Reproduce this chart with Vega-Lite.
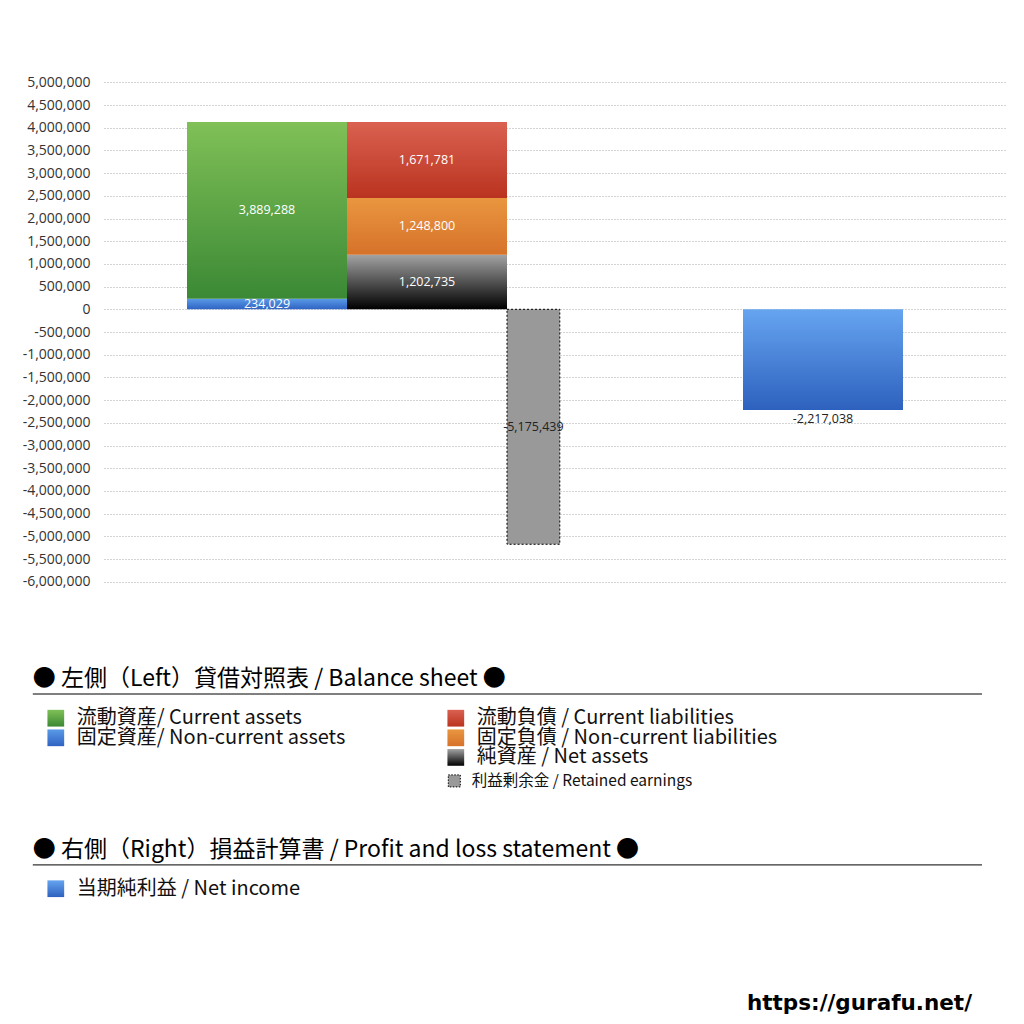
{
  "$schema": "https://vega.github.io/schema/vega-lite/v6.json",
  "width": 902,
  "height": 1024,
  "autosize": {"type": "none"},
  "padding": {"left": 104, "right": 18, "top": 0, "bottom": 0},
  "background": "white",
  "config": {
    "view": {"stroke": null},
    "font": "Noto Sans CJK JP",
    "locale": {"number": {"decimal": ".", "thousands": ",", "grouping": [3], "currency": ["", ""], "minus": "-"}}
  },
  "datasets": {
    "bars": [
      {"column": "assets", "key": "non_current_assets", "value": 234029, "order": 1, "x0": 0, "x1": 1},
      {"column": "assets", "key": "current_assets", "value": 3889288, "order": 2, "x0": 0, "x1": 1},
      {"column": "liabilities", "key": "net_assets", "value": 1202735, "order": 1, "x0": 1, "x1": 2},
      {"column": "liabilities", "key": "non_current_liabilities", "value": 1248800, "order": 2, "x0": 1, "x1": 2},
      {"column": "liabilities", "key": "current_liabilities", "value": 1671781, "order": 3, "x0": 1, "x1": 2},
      {"column": "retained", "key": "retained_earnings", "value": -5175439, "order": 1, "x0": 2, "x1": 2.33},
      {"column": "income", "key": "net_income", "value": -2217038, "order": 1, "x0": 3.475, "x1": 4.475}
    ],
    "legend": [
      {"key": "current_assets", "label": "流動資産/ Current assets", "col": 0, "row": 2},
      {"key": "non_current_assets", "label": "固定資産/ Non-current assets", "col": 0, "row": 3},
      {"key": "current_liabilities", "label": "流動負債 /  Current liabilities", "col": 1, "row": 2},
      {"key": "non_current_liabilities", "label": "固定負債 / Non-current liabilities", "col": 1, "row": 3},
      {"key": "net_assets", "label": "純資産 / Net assets", "col": 1, "row": 4},
      {"key": "retained_earnings", "label": "利益剰余金 / Retained earnings", "col": 1, "row": 5.2},
      {"key": "net_income", "label": "当期純利益 / Net income", "col": 0, "row": 10.7}
    ],
    "headers": [
      {"text": "● 左側（Left）貸借対照表 / Balance sheet ●", "col": 0, "row": 0},
      {"text": "● 右側（Right）損益計算書 / Profit and loss statement ●", "col": 0, "row": 8.72}
    ],
    "credit": [
      {"text": "https://gurafu.net/", "col": 1, "row": 16.58}
    ]
  },
  "data": {"name": "bars"},
  "transform": [
    {"stack": "value", "groupby": ["column"], "sort": [{"field": "order", "order": "ascending"}], "as": ["v0", "v1"], "offset": "zero"},
    {"calculate": "(datum.v0 + datum.v1) / 2", "as": "ym"},
    {"calculate": "(datum.x0 + datum.x1) / 2", "as": "xm"}
  ],
  "layer": [
    {
      "transform": [{"filter": "datum.key !== 'retained_earnings'"}],
      "mark": {"type": "bar"},
      "encoding": {
        "x": {"field": "x0", "type": "quantitative", "scale": {"domain": [-0.51875, 5.11875], "nice": false, "zero": false}, "axis": null},
        "x2": {"field": "x1"},
        "y": {
          "field": "v0", "type": "quantitative",
          "scale": {"domain": [-15742000, 6813000], "nice": false, "zero": false},
          "axis": {
            "orient": "left",
            "title": null,
            "values": [-6000000, -5500000, -5000000, -4500000, -4000000, -3500000, -3000000, -2500000, -2000000, -1500000, -1000000, -500000, 0, 500000, 1000000, 1500000, 2000000, 2500000, 3000000, 3500000, 4000000, 4500000, 5000000],
            "format": ",d",
            "grid": true,
            "gridDash": [1, 2],
            "gridColor": "#a8a8a8",
            "gridWidth": 1,
            "domain": false,
            "ticks": false,
            "labelPadding": 14,
            "labelFont": "Open Sans",
            "labelFontSize": 14,
            "labelColor": "#333333"
          }
        },
        "y2": {"field": "v1"},
        "color": {
          "condition": [
            {"test": "datum.key === 'current_assets'", "value": {"gradient": "linear", "x1": 0, "y1": 0, "x2": 0, "y2": 1, "stops": [{"offset": 0, "color": "#80c057"}, {"offset": 1, "color": "#3b8935"}]}},
            {"test": "datum.key === 'non_current_assets'", "value": {"gradient": "linear", "x1": 0, "y1": 0, "x2": 0, "y2": 1, "stops": [{"offset": 0, "color": "#5a9ae8"}, {"offset": 1, "color": "#2f63c2"}]}},
            {"test": "datum.key === 'current_liabilities'", "value": {"gradient": "linear", "x1": 0, "y1": 0, "x2": 0, "y2": 1, "stops": [{"offset": 0, "color": "#da6150"}, {"offset": 1, "color": "#ba3320"}]}},
            {"test": "datum.key === 'non_current_liabilities'", "value": {"gradient": "linear", "x1": 0, "y1": 0, "x2": 0, "y2": 1, "stops": [{"offset": 0, "color": "#e99640"}, {"offset": 1, "color": "#d6722a"}]}},
            {"test": "datum.key === 'net_assets'", "value": {"gradient": "linear", "x1": 0, "y1": 0, "x2": 0, "y2": 1, "stops": [{"offset": 0, "color": "#a3a3a3"}, {"offset": 1, "color": "#000000"}]}}
          ],
          "value": {"gradient": "linear", "x1": 0, "y1": 0, "x2": 0, "y2": 1, "stops": [{"offset": 0, "color": "#66a4f0"}, {"offset": 1, "color": "#2d61be"}]}
        }
      }
    },
    {
      "transform": [{"filter": "datum.key === 'retained_earnings'"}],
      "mark": {"type": "bar", "fill": "#999999", "stroke": "#000000", "strokeWidth": 1, "strokeDash": [2, 2]},
      "encoding": {
        "x": {"field": "x0", "type": "quantitative", "scale": {"domain": [-0.51875, 5.11875], "nice": false, "zero": false}, "axis": null},
        "x2": {"field": "x1"},
        "y": {"field": "v0", "type": "quantitative", "scale": {"domain": [-15742000, 6813000], "nice": false, "zero": false}, "axis": null},
        "y2": {"field": "v1"}
      }
    },
    {
      "transform": [{"filter": "datum.value > 0"}],
      "mark": {"type": "text", "align": "center", "baseline": "middle", "font": "Open Sans", "fontSize": 12.5, "color": "#ffffff"},
      "encoding": {
        "x": {"field": "xm", "type": "quantitative", "scale": {"domain": [-0.51875, 5.11875], "nice": false, "zero": false}, "axis": null},
        "y": {"field": "ym", "type": "quantitative", "scale": {"domain": [-15742000, 6813000], "nice": false, "zero": false}, "axis": null},
        "text": {"field": "value", "type": "quantitative", "format": ",d"}
      }
    },
    {
      "transform": [{"filter": "datum.key === 'retained_earnings'"}],
      "mark": {"type": "text", "align": "center", "baseline": "middle", "font": "Open Sans", "fontSize": 12.5, "color": "#222222"},
      "encoding": {
        "x": {"field": "xm", "type": "quantitative", "scale": {"domain": [-0.51875, 5.11875], "nice": false, "zero": false}, "axis": null},
        "y": {"field": "ym", "type": "quantitative", "scale": {"domain": [-15742000, 6813000], "nice": false, "zero": false}, "axis": null},
        "text": {"field": "value", "type": "quantitative", "format": ",d"}
      }
    },
    {
      "transform": [{"filter": "datum.key === 'net_income'"}],
      "mark": {"type": "text", "align": "center", "baseline": "top", "dy": 3, "font": "Open Sans", "fontSize": 12.5, "color": "#222222"},
      "encoding": {
        "x": {"field": "xm", "type": "quantitative", "scale": {"domain": [-0.51875, 5.11875], "nice": false, "zero": false}, "axis": null},
        "y": {"field": "v1", "type": "quantitative", "scale": {"domain": [-15742000, 6813000], "nice": false, "zero": false}, "axis": null},
        "text": {"field": "value", "type": "quantitative", "format": ",d"}
      }
    },
    {
      "data": {"name": "headers"},
      "mark": {"type": "text", "align": "left", "baseline": "middle", "dx": -23, "fontSize": 23, "color": "#000000"},
      "encoding": {
        "x": {"field": "col", "type": "quantitative", "scale": {"domain": [0, 1], "range": [-48.2, 351.8], "nice": false, "zero": false}, "axis": null},
        "y": {"field": "row", "type": "quantitative", "scale": {"domain": [0, 20], "range": [679, 1071], "nice": false, "zero": false}, "axis": null},
        "text": {"field": "text"}
      }
    },
    {
      "data": {"name": "headers"},
      "mark": {"type": "rule", "color": "#000000", "strokeWidth": 1, "xOffset": -23, "x2Offset": -24, "yOffset": 15},
      "encoding": {
        "x": {"field": "col", "type": "quantitative", "scale": {"domain": [0, 1], "range": [-48.2, 351.8], "nice": false, "zero": false}, "axis": null},
        "x2": {"value": "width"},
        "y": {"field": "row", "type": "quantitative", "scale": {"domain": [0, 20], "range": [679, 1071], "nice": false, "zero": false}, "axis": null}
      }
    },
    {
      "data": {"name": "legend"},
      "transform": [{"filter": "datum.key !== 'retained_earnings'"}],
      "mark": {"type": "square", "size": 280, "filled": true, "opacity": 1},
      "encoding": {
        "x": {"field": "col", "type": "quantitative", "scale": {"domain": [0, 1], "range": [-48.2, 351.8], "nice": false, "zero": false}, "axis": null},
        "y": {"field": "row", "type": "quantitative", "scale": {"domain": [0, 20], "range": [679, 1071], "nice": false, "zero": false}, "axis": null},
        "color": {
          "condition": [
            {"test": "datum.key === 'current_assets'", "value": {"gradient": "linear", "x1": 0, "y1": 0, "x2": 0, "y2": 1, "stops": [{"offset": 0, "color": "#80c057"}, {"offset": 1, "color": "#3b8935"}]}},
            {"test": "datum.key === 'non_current_assets'", "value": {"gradient": "linear", "x1": 0, "y1": 0, "x2": 0, "y2": 1, "stops": [{"offset": 0, "color": "#5a9ae8"}, {"offset": 1, "color": "#2f63c2"}]}},
            {"test": "datum.key === 'current_liabilities'", "value": {"gradient": "linear", "x1": 0, "y1": 0, "x2": 0, "y2": 1, "stops": [{"offset": 0, "color": "#da6150"}, {"offset": 1, "color": "#ba3320"}]}},
            {"test": "datum.key === 'non_current_liabilities'", "value": {"gradient": "linear", "x1": 0, "y1": 0, "x2": 0, "y2": 1, "stops": [{"offset": 0, "color": "#e99640"}, {"offset": 1, "color": "#d6722a"}]}},
            {"test": "datum.key === 'net_assets'", "value": {"gradient": "linear", "x1": 0, "y1": 0, "x2": 0, "y2": 1, "stops": [{"offset": 0, "color": "#a3a3a3"}, {"offset": 1, "color": "#000000"}]}}
          ],
          "value": {"gradient": "linear", "x1": 0, "y1": 0, "x2": 0, "y2": 1, "stops": [{"offset": 0, "color": "#66a4f0"}, {"offset": 1, "color": "#2d61be"}]}
        }
      }
    },
    {
      "data": {"name": "legend"},
      "transform": [{"filter": "datum.key === 'retained_earnings'"}],
      "mark": {"type": "square", "size": 144, "filled": true, "opacity": 1, "fill": "#999999", "stroke": "#000000", "strokeWidth": 1, "strokeDash": [1.5, 1.5], "xOffset": -1.5},
      "encoding": {
        "x": {"field": "col", "type": "quantitative", "scale": {"domain": [0, 1], "range": [-48.2, 351.8], "nice": false, "zero": false}, "axis": null},
        "y": {"field": "row", "type": "quantitative", "scale": {"domain": [0, 20], "range": [679, 1071], "nice": false, "zero": false}, "axis": null}
      }
    },
    {
      "data": {"name": "legend"},
      "transform": [{"filter": "datum.key !== 'retained_earnings'"}],
      "mark": {"type": "text", "align": "left", "baseline": "middle", "dx": 21, "fontSize": 20, "color": "#111111"},
      "encoding": {
        "x": {"field": "col", "type": "quantitative", "scale": {"domain": [0, 1], "range": [-48.2, 351.8], "nice": false, "zero": false}, "axis": null},
        "y": {"field": "row", "type": "quantitative", "scale": {"domain": [0, 20], "range": [679, 1071], "nice": false, "zero": false}, "axis": null},
        "text": {"field": "label"}
      }
    },
    {
      "data": {"name": "legend"},
      "transform": [{"filter": "datum.key === 'retained_earnings'"}],
      "mark": {"type": "text", "align": "left", "baseline": "middle", "dx": 16, "fontSize": 15.5, "color": "#111111"},
      "encoding": {
        "x": {"field": "col", "type": "quantitative", "scale": {"domain": [0, 1], "range": [-48.2, 351.8], "nice": false, "zero": false}, "axis": null},
        "y": {"field": "row", "type": "quantitative", "scale": {"domain": [0, 20], "range": [679, 1071], "nice": false, "zero": false}, "axis": null},
        "text": {"field": "label"}
      }
    },
    {
      "data": {"name": "credit"},
      "mark": {"type": "text", "align": "right", "baseline": "middle", "dx": -34, "font": "DejaVu Sans", "fontSize": 21.5, "fontWeight": "bold", "color": "#000000"},
      "encoding": {
        "x": {"value": "width"},
        "y": {"field": "row", "type": "quantitative", "scale": {"domain": [0, 20], "range": [679, 1071], "nice": false, "zero": false}, "axis": null},
        "text": {"field": "text"}
      }
    }
  ],
  "resolve": {"scale": {"x": "independent", "y": "independent"}}
}
